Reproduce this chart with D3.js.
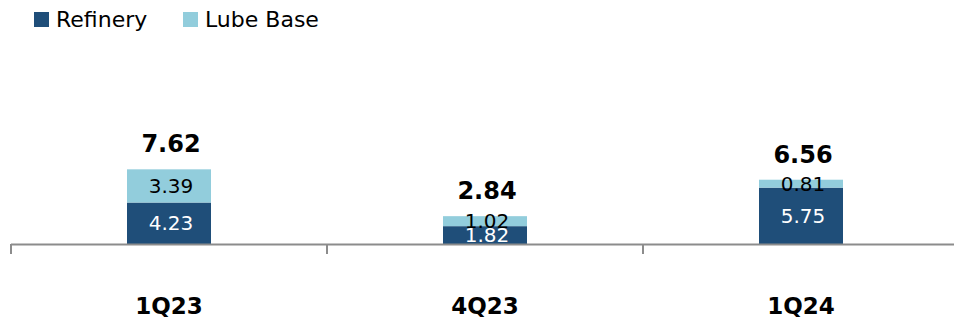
<!DOCTYPE html>
<html>
<head>
<meta charset="utf-8">
<script src="https://cdn.jsdelivr.net/npm/d3@7"></script>
<style>
  html, body { margin: 0; padding: 0; background: #fff; }
  svg { display: block; font-family: "DejaVu Sans", Verdana, sans-serif; }
</style>
</head>
<body>
<svg id="chart" width="954" height="320"></svg>
<script>
const categories = ["1Q23", "4Q23", "1Q24"];
const refinery = [4.23, 1.82, 5.75];
const lubeBase = [3.39, 1.02, 0.81];
const totals = [7.62, 2.84, 6.56];
const seriesNames = ["Refinery", "Lube Base"];
const colors = ["#1F4E79", "#92CDDC"];

const svg = d3.select("#chart");
const baseY = 244;

const x = d3.scaleBand().domain(categories).range([11, 959]).padding(0);
const y = d3.scaleLinear().domain([0, 10]).range([baseY, 146]);
const barW = 84;

const data = categories.map((c, i) => ({ cat: c, ref: refinery[i], lube: lubeBase[i], total: totals[i] }));
const stack = d3.stack().keys(["ref", "lube"])(data);

// bars
const g = svg.append("g");
stack.forEach((layer, li) => {
  g.selectAll(null).data(layer).enter().append("rect")
    .attr("x", d => x(d.data.cat) + (x.bandwidth() - barW) / 2)
    .attr("y", d => y(d[1]))
    .attr("width", barW)
    .attr("height", d => y(d[0]) - y(d[1]))
    .attr("fill", colors[li]);
});

// axis line and ticks
const axisColor = "#8c8c8c";
const [r0, r1] = x.range();
svg.append("line").attr("x1", r0).attr("x2", r1).attr("y1", baseY + 0.5).attr("y2", baseY + 0.5)
  .attr("stroke", axisColor).attr("stroke-width", 2);
const tickPos = categories.map(c => x(c)).concat([r1]);
svg.selectAll(null).data(tickPos).enter().append("line")
  .attr("x1", d => d).attr("x2", d => d)
  .attr("y1", baseY).attr("y2", baseY + 10)
  .attr("stroke", axisColor).attr("stroke-width", 2);

// segment labels
stack.forEach((layer, li) => {
  g.selectAll(null).data(layer).enter().append("text")
    .attr("x", d => x(d.data.cat) + x.bandwidth() / 2 + 2)
    .attr("y", d => (y(d[0]) + y(d[1])) / 2 + 7)
    .attr("text-anchor", "middle")
    .attr("font-size", 20)
    .attr("fill", li === 0 ? "#ffffff" : "#000000")
    .text(d => (d[1] - d[0]).toFixed(2));
});

// totals
svg.selectAll(null).data(data).enter().append("text")
  .attr("x", d => x(d.cat) + x.bandwidth() / 2 + 2)
  .attr("y", d => y(d.total) - 17)
  .attr("text-anchor", "middle")
  .attr("font-size", 24)
  .attr("font-weight", "bold")
  .attr("fill", "#000")
  .text(d => d.total.toFixed(2));

// category labels
svg.selectAll(null).data(categories).enter().append("text")
  .attr("x", d => x(d) + x.bandwidth() / 2)
  .attr("y", 314)
  .attr("text-anchor", "middle")
  .attr("font-size", 23)
  .attr("font-weight", "bold")
  .attr("fill", "#000")
  .text(d => d);

// legend
const legendX = [34, 183];
const lg = svg.selectAll(null).data(seriesNames).enter().append("g")
  .attr("transform", (d, i) => `translate(${legendX[i]},12)`);
lg.append("rect").attr("width", 15).attr("height", 15).attr("fill", (d, i) => colors[i]);
lg.append("text").attr("x", 22).attr("y", 15).attr("font-size", 22).attr("fill", "#000").text(d => d);
</script>
</body>
</html>
